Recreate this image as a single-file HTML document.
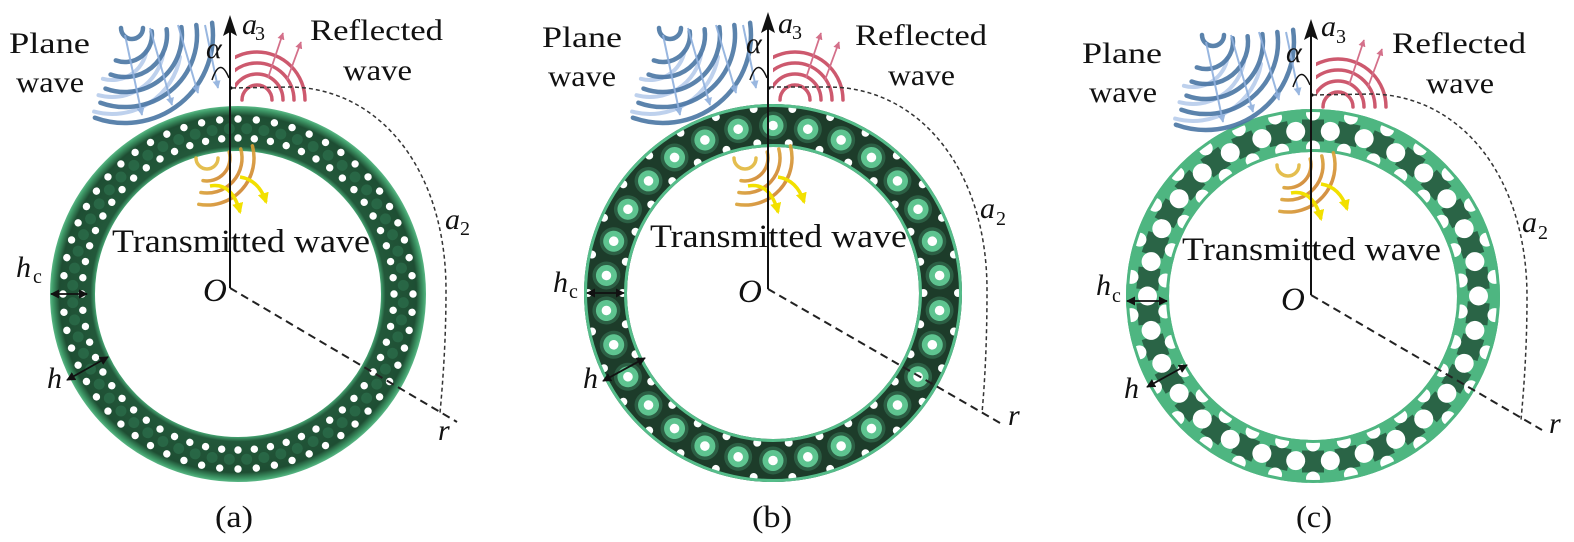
<!DOCTYPE html>
<html><head><meta charset="utf-8">
<style>
html,body{margin:0;padding:0;background:#fff;}
svg{display:block;}
text{font-family:"Liberation Serif",serif;fill:#111;}
.i{font-style:italic;}
</style></head>
<body>
<svg width="1574" height="542" viewBox="0 0 1574 542" xmlns="http://www.w3.org/2000/svg">
<defs>
  <radialGradient id="gA" gradientUnits="userSpaceOnUse" cx="0" cy="0" r="188">
    <stop offset="0.76" stop-color="#46a673"/>
    <stop offset="0.785" stop-color="#22583a"/>
    <stop offset="0.95" stop-color="#1e4e33"/>
    <stop offset="0.985" stop-color="#3f9a68"/>
    <stop offset="1" stop-color="#5ab886"/>
  </radialGradient>
  <linearGradient id="gO" x1="0" y1="0" x2="1" y2="1">
    <stop offset="0" stop-color="#ecd040"/>
    <stop offset="1" stop-color="#c8702a"/>
  </linearGradient>
  <marker id="mk" viewBox="0 0 10 10" refX="9" refY="5" markerWidth="5" markerHeight="5" orient="auto-start-reverse">
    <path d="M0,0 L10,5 L0,10 Z" fill="#111"/>
  </marker>
  <marker id="mb" viewBox="0 0 10 10" refX="9" refY="5" markerWidth="4" markerHeight="4" orient="auto">
    <path d="M0,0 L10,5 L0,10 Z" fill="#8fb0dd"/>
  </marker>
  <marker id="mr" viewBox="0 0 10 10" refX="9" refY="5" markerWidth="4" markerHeight="4" orient="auto">
    <path d="M0,0 L10,5 L0,10 Z" fill="#d4708a"/>
  </marker>
  <marker id="my" viewBox="0 0 10 10" refX="8" refY="5" markerWidth="3.2" markerHeight="3.2" orient="auto">
    <path d="M0,0 L10,5 L0,10 Z" fill="#f2e000"/>
  </marker>
  <clipPath id="clr" clipPathUnits="userSpaceOnUse"><rect x="235" y="0" width="120" height="140"/></clipPath>

  <!-- ring a pattern -->
  <g id="a0">
    <circle cx="0" cy="-165.5" r="5.5" fill="#2f7550" opacity="0.6" transform="rotate(3)"/>
    <circle cx="0" cy="-156" r="3.7" fill="#fff"/>
    <circle cx="0" cy="-175" r="3.7" fill="#fff"/>
  </g>
  <g id="a1"><use href="#a0"/><use href="#a0" transform="rotate(6)"/></g>
  <g id="a2"><use href="#a1"/><use href="#a1" transform="rotate(12)"/></g>
  <g id="a3"><use href="#a2"/><use href="#a2" transform="rotate(24)"/><use href="#a2" transform="rotate(48)"/></g>
  <g id="a4"><use href="#a3"/><use href="#a3" transform="rotate(72)"/><use href="#a3" transform="rotate(144)"/><use href="#a3" transform="rotate(216)"/><use href="#a3" transform="rotate(288)"/></g>

  <!-- ring b pattern -->
  <g id="b0">
    <circle cx="0" cy="-167.5" r="14" fill="#2c5f44"/>
    <circle cx="0" cy="-167.5" r="10.5" fill="#5ec490"/>
    <circle cx="0" cy="-167.5" r="4.8" fill="#fff"/>
    <g transform="rotate(6)">
      <circle cx="0" cy="-150.5" r="4" fill="#fff"/>
      <circle cx="0" cy="-185" r="4" fill="#fff"/>
    </g>
  </g>
  <g id="b1"><use href="#b0"/><use href="#b0" transform="rotate(12)"/></g>
  <g id="b2"><use href="#b1"/><use href="#b1" transform="rotate(24)"/><use href="#b1" transform="rotate(48)"/></g>
  <g id="b3"><use href="#b2"/><use href="#b2" transform="rotate(72)"/><use href="#b2" transform="rotate(144)"/><use href="#b2" transform="rotate(216)"/><use href="#b2" transform="rotate(288)"/></g>

  <!-- ring c nodes -->
  <g id="n0"><rect x="-11" y="-176.5" width="22" height="22" fill="#2a6446"/></g>
  <g id="n1"><use href="#n0"/><use href="#n0" transform="rotate(12)"/></g>
  <g id="n2"><use href="#n1"/><use href="#n1" transform="rotate(24)"/><use href="#n1" transform="rotate(48)"/></g>
  <g id="n3"><use href="#n2"/><use href="#n2" transform="rotate(72)"/><use href="#n2" transform="rotate(144)"/><use href="#n2" transform="rotate(216)"/><use href="#n2" transform="rotate(288)"/></g>
  <!-- ring c holes -->
  <g id="h0">
    <circle cx="0" cy="-148.5" r="7" fill="#fff"/>
    <circle cx="0" cy="-182.5" r="7" fill="#fff"/>
    <circle cx="0" cy="-165.5" r="9.5" fill="#fff" transform="rotate(6)"/>
  </g>
  <g id="h1"><use href="#h0"/><use href="#h0" transform="rotate(12)"/></g>
  <g id="h2"><use href="#h1"/><use href="#h1" transform="rotate(24)"/><use href="#h1" transform="rotate(48)"/></g>
  <g id="h3"><use href="#h2"/><use href="#h2" transform="rotate(72)"/><use href="#h2" transform="rotate(144)"/><use href="#h2" transform="rotate(216)"/><use href="#h2" transform="rotate(288)"/></g>

  <!-- waves (panel a coordinates) -->
  <g id="wv">
    <g fill="none" stroke="#b3c9ea" stroke-width="4" stroke-linecap="round" opacity="0.85">
      <path d="M102.9 78.8 A35 35 0 0 0 146.5 51.1"/>
      <path d="M98.5 95.2 A52 52 0 0 0 163.2 54.0"/>
      <path d="M94.1 111.6 A69 69 0 0 0 180.0 57.0"/>
    </g>
    <g fill="none" stroke="#4a76a4" stroke-width="4.5" stroke-linecap="round" opacity="0.9">
      <path d="M121 28 A11 11 0 0 0 143 28"/>
      <path d="M115.8 60.4 A27 27 0 0 0 151.7 31.2"/>
      <path d="M110.6 74.5 A42 42 0 0 0 166.6 29.2"/>
      <path d="M105.5 88.6 A57 57 0 0 0 181.4 27.1"/>
      <path d="M100.4 102.7 A72 72 0 0 0 196.3 25.0"/>
      <path d="M94.9 117.7 A88 88 0 0 0 212.1 22.8"/>
    </g>
    <g fill="none" stroke="#8fb0dd" stroke-width="2" marker-end="url(#mb)" opacity="0.9">
      <path d="M125 35 L142 115"/>
      <path d="M150 28 L172 105"/>
      <path d="M178 25 L198 93"/>
      <path d="M205 25 L218 88"/>
    </g>
    <g fill="none" stroke="#c8485f" stroke-width="3.5" stroke-linecap="round" clip-path="url(#clr)" opacity="0.9">
      <path d="M242 100 A15 15 0 0 1 272 100"/>
      <path d="M231 100 A26 26 0 0 1 283 100"/>
      <path d="M220 100 A37 37 0 0 1 294 100"/>
      <path d="M209 100 A48 48 0 0 1 305 100"/>
    </g>
    <g fill="none" stroke="#d4708a" stroke-width="1.8" marker-end="url(#mr)">
      <path d="M268 78 L283 33"/>
      <path d="M287 80 L301 42"/>
    </g>
    <g fill="none" stroke="url(#gO)" stroke-width="3.5" stroke-linecap="round" opacity="0.9">
      <path d="M196 158 A11 11 0 0 0 218 158" stroke="#e2b83c"/>
      <path d="M229.2 152.0 A23 23 0 0 1 203.0 180.6"/>
      <path d="M240.8 148.9 A35 35 0 0 1 200.9 192.5"/>
      <path d="M252.4 145.8 A47 47 0 0 1 198.8 204.3"/>
    </g>
    <g fill="none" stroke="#f2e000" stroke-width="3.5" marker-end="url(#my)">
      <path d="M210 186 Q232 182 240 212"/>
      <path d="M240 177 Q259 180 266 202"/>
    </g>
    <path d="M212 80 Q220 56 229 78" fill="none" stroke="#111" stroke-width="1.5"/>
    <circle cx="231" cy="88" r="1.6" fill="#111"/>
  </g>
</defs>

<!-- Rings -->
<g transform="translate(238,294)">
  <circle r="165.5" fill="none" stroke="url(#gA)" stroke-width="45"/>
  <use href="#a4"/>
</g>
<g transform="translate(773,293)">
  <circle r="167.5" fill="none" stroke="#1d3c2a" stroke-width="43"/>
  <use href="#b3"/>
  <circle r="147.5" fill="none" stroke="#55bd8a" stroke-width="3"/>
  <circle r="187.5" fill="none" stroke="#55bd8a" stroke-width="3"/>
</g>
<g transform="translate(1313,296)">
  <circle r="165.5" fill="none" stroke="#4eb681" stroke-width="43"/>
  <use href="#n3"/>
  <use href="#h3"/>
  <circle r="145.5" fill="none" stroke="#4eb681" stroke-width="3"/>
  <circle r="185.5" fill="none" stroke="#4eb681" stroke-width="3"/>
</g>

<!-- waves -->
<use href="#wv"/>
<use href="#wv" transform="translate(538,0)"/>
<use href="#wv" transform="translate(1081,7)"/>

<!-- dashed a2 arcs -->
<g fill="none" stroke="#333" stroke-width="1.5" stroke-dasharray="4 3">
  <path d="M232 88 L290 87 C380 88 446 170 446 290 C446 340 443 380 440 413"/>
  <path d="M770 87 L830 87 C920 88 987 170 987 290 C987 340 985 380 982 413"/>
  <path d="M1313 95 L1371 94 C1461 95 1527 177 1527 297 C1527 347 1524 387 1521 420"/>
</g>
<!-- dashed radii -->
<g fill="none" stroke="#222" stroke-width="2" stroke-dasharray="8 5">
  <path d="M230 288 L457 422"/>
  <path d="M768 289 L1000 423"/>
  <path d="M1311 295 L1542 430"/>
</g>
<!-- axes -->
<g stroke="#111" stroke-width="2">
  <line x1="230" y1="288" x2="230" y2="30"/>
  <line x1="768" y1="289" x2="768" y2="28"/>
  <line x1="1311" y1="295" x2="1311" y2="34"/>
</g>
<g fill="#111">
  <path d="M230 15 L237 36 L230 32 L223 36 Z"/>
  <path d="M768 12 L775 33 L768 29 L761 33 Z"/>
  <path d="M1311 19 L1318 40 L1311 36 L1304 40 Z"/>
</g>
<!-- h and hc arrows -->
<g fill="none" stroke="#111" stroke-width="1.8" marker-start="url(#mk)" marker-end="url(#mk)">
  <path d="M51 294 L87 294"/>
  <path d="M67 380 L108 357"/>
  <path d="M587 293 L624 293"/>
  <path d="M603 381 L645 358"/>
  <path d="M1127 301 L1167 301"/>
  <path d="M1147 387 L1187 365"/>
</g>

<!-- Panel a text -->
<text x="9" y="53" font-size="30" textLength="81" lengthAdjust="spacingAndGlyphs">Plane</text>
<text x="16" y="92" font-size="30" textLength="68" lengthAdjust="spacingAndGlyphs">wave</text>
<text x="310" y="40" font-size="30" textLength="133" lengthAdjust="spacingAndGlyphs">Reflected</text>
<text x="343" y="80" font-size="30" textLength="69" lengthAdjust="spacingAndGlyphs">wave</text>
<text class="i" x="206" y="58" font-size="30">α</text>
<text class="i" x="242" y="34" font-size="30">a</text><text x="255" y="40" font-size="20">3</text>
<text x="112" y="252" font-size="33" textLength="258" lengthAdjust="spacingAndGlyphs">Transmitted wave</text>
<text class="i" x="445" y="229" font-size="30">a</text><text x="460" y="235" font-size="20">2</text>
<text class="i" x="16" y="277" font-size="30">h</text><text x="33" y="283" font-size="20">c</text>
<text class="i" x="203" y="301" font-size="33">O</text>
<text class="i" x="47" y="388" font-size="30">h</text>
<text class="i" x="438" y="440" font-size="30">r</text>
<text x="215" y="527" font-size="31" textLength="38" lengthAdjust="spacingAndGlyphs">(a)</text>

<!-- Panel b text -->
<text x="542" y="47" font-size="30" textLength="80" lengthAdjust="spacingAndGlyphs">Plane</text>
<text x="548" y="86" font-size="30" textLength="68" lengthAdjust="spacingAndGlyphs">wave</text>
<text x="855" y="45" font-size="30" textLength="132" lengthAdjust="spacingAndGlyphs">Reflected</text>
<text x="888" y="85" font-size="30" textLength="67" lengthAdjust="spacingAndGlyphs">wave</text>
<text class="i" x="746" y="53" font-size="30">α</text>
<text class="i" x="778" y="33" font-size="30">a</text><text x="792" y="39" font-size="20">3</text>
<text x="650" y="247" font-size="33" textLength="257" lengthAdjust="spacingAndGlyphs">Transmitted wave</text>
<text class="i" x="980" y="218" font-size="30">a</text><text x="996" y="225" font-size="20">2</text>
<text class="i" x="553" y="292" font-size="30">h</text><text x="569" y="298" font-size="20">c</text>
<text class="i" x="738" y="302" font-size="33">O</text>
<text class="i" x="583" y="388" font-size="30">h</text>
<text class="i" x="1008" y="425" font-size="30">r</text>
<text x="752" y="527" font-size="31" textLength="40" lengthAdjust="spacingAndGlyphs">(b)</text>

<!-- Panel c text -->
<text x="1082" y="63" font-size="30" textLength="80" lengthAdjust="spacingAndGlyphs">Plane</text>
<text x="1089" y="102" font-size="30" textLength="68" lengthAdjust="spacingAndGlyphs">wave</text>
<text x="1392" y="53" font-size="30" textLength="134" lengthAdjust="spacingAndGlyphs">Reflected</text>
<text x="1426" y="93" font-size="30" textLength="68" lengthAdjust="spacingAndGlyphs">wave</text>
<text class="i" x="1286" y="62" font-size="30">α</text>
<text class="i" x="1321" y="36" font-size="30">a</text><text x="1336" y="43" font-size="20">3</text>
<text x="1182" y="260" font-size="33" textLength="259" lengthAdjust="spacingAndGlyphs">Transmitted wave</text>
<text class="i" x="1522" y="232" font-size="30">a</text><text x="1538" y="239" font-size="20">2</text>
<text class="i" x="1096" y="295" font-size="30">h</text><text x="1112" y="302" font-size="20">c</text>
<text class="i" x="1281" y="310" font-size="33">O</text>
<text class="i" x="1124" y="398" font-size="30">h</text>
<text class="i" x="1549" y="433" font-size="30">r</text>
<text x="1296" y="527" font-size="31" textLength="36" lengthAdjust="spacingAndGlyphs">(c)</text>
</svg>
</body></html>
